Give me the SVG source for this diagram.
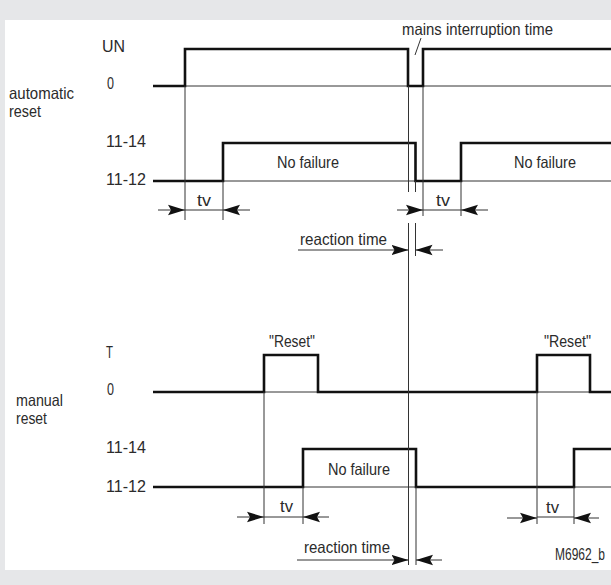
<svg xmlns="http://www.w3.org/2000/svg" width="611" height="585" viewBox="0 0 611 585">
<defs>
<style>
.t{font-family:"Liberation Sans","Arial",sans-serif;font-size:16.5px;fill:#2b2b2b}
.sig{fill:none;stroke:#111;stroke-width:2.6;stroke-linejoin:miter}
.th{fill:none;stroke:#333;stroke-width:1}
.ar{fill:none;stroke:#333;stroke-width:1;marker-end:url(#ah)}
</style>
<marker id="ah" markerUnits="userSpaceOnUse" markerWidth="18" markerHeight="12" refX="17" refY="6" orient="auto">
<path d="M0,0.8 L17,6 L0,11.2 L3,6 Z" fill="#111"/>
</marker>
</defs>
<rect x="0" y="0" width="611" height="585" fill="#e6e7e9"/>
<rect x="5" y="20" width="606" height="550" fill="#fff"/>

<g id="labels">
<text class="t" x="9" y="99" textLength="65" lengthAdjust="spacingAndGlyphs">automatic</text>
<text class="t" x="9" y="117" textLength="32" lengthAdjust="spacingAndGlyphs">reset</text>
<text class="t" x="16" y="406" textLength="47" lengthAdjust="spacingAndGlyphs">manual</text>
<text class="t" x="16" y="424" textLength="31" lengthAdjust="spacingAndGlyphs">reset</text>
<text class="t" x="102" y="52" textLength="23" lengthAdjust="spacingAndGlyphs">UN</text>
<text class="t" x="107" y="89" textLength="7" lengthAdjust="spacingAndGlyphs">0</text>
<text class="t" x="106" y="147" textLength="40" lengthAdjust="spacingAndGlyphs">11-14</text>
<text class="t" x="106" y="185" textLength="40" lengthAdjust="spacingAndGlyphs">11-12</text>
<text class="t" x="106" y="358" textLength="7" lengthAdjust="spacingAndGlyphs">T</text>
<text class="t" x="107" y="395" textLength="7" lengthAdjust="spacingAndGlyphs">0</text>
<text class="t" x="106" y="453" textLength="40" lengthAdjust="spacingAndGlyphs">11-14</text>
<text class="t" x="106" y="492" textLength="40" lengthAdjust="spacingAndGlyphs">11-12</text>
<text class="t" x="402" y="35" textLength="151" lengthAdjust="spacingAndGlyphs">mains interruption time</text>
<text class="t" x="277" y="168" textLength="62" lengthAdjust="spacingAndGlyphs">No failure</text>
<text class="t" x="514" y="168" textLength="62" lengthAdjust="spacingAndGlyphs">No failure</text>
<text class="t" x="328" y="475" textLength="62" lengthAdjust="spacingAndGlyphs">No failure</text>
<text class="t" x="269" y="347" textLength="46" lengthAdjust="spacingAndGlyphs">"Reset"</text>
<text class="t" x="544" y="347" textLength="47" lengthAdjust="spacingAndGlyphs">"Reset"</text>
<text class="t" x="197" y="206" textLength="14" lengthAdjust="spacingAndGlyphs">tv</text>
<text class="t" x="436" y="206" textLength="14" lengthAdjust="spacingAndGlyphs">tv</text>
<text class="t" x="280" y="512" textLength="13" lengthAdjust="spacingAndGlyphs">tv</text>
<text class="t" x="546" y="513" textLength="13" lengthAdjust="spacingAndGlyphs">tv</text>
<text class="t" x="300" y="245" textLength="87" lengthAdjust="spacingAndGlyphs">reaction time</text>
<text class="t" x="304" y="553" textLength="86" lengthAdjust="spacingAndGlyphs">reaction time</text>
<text class="t" x="555" y="560" textLength="50" lengthAdjust="spacingAndGlyphs">M6962_b</text>
</g>

<g id="signals">
<path class="th" d="M185,86 H611 M223,181 H611 M264,392 H318 M537,392 H590 M303,487 H611"/>
<path id="un" class="sig" d="M153,86 H185 V49 H408 V86 H423 V49 H612"/>
<path id="k1auto" class="sig" d="M153,181 H223 V143 H415.5 V181 H461 V143 H612"/>
<path id="t" class="sig" d="M153,392 H264 V355 H318 V392 H537 V355 H590 V392 H612"/>
<path id="k1man" class="sig" d="M153,487 H303 V449 H416 V487 H574 V449 H612"/>
</g>

<g id="connectors">
<path class="th" d="M185,86 V220 M223,181 V220 M408.5,86 V192 M415.5,181 V192 M423,86 V216 M461,181 V216"/>
<path class="th" d="M408.5,223 V565 M415.5,223 V256 M416,487 V565"/>
<path class="th" d="M264,392 V524 M303,487 V524 M537,392 V524 M574,487 V524"/>
<path class="th" d="M421,38 L415,55"/>
<path class="th" d="M185,210 H223 M423,210 H461 M264,517 H303 M537,517 H574"/>
<line class="ar" x1="158" y1="210" x2="185" y2="210"/>
<line class="ar" x1="250" y1="210" x2="223" y2="210"/>
<line class="ar" x1="397" y1="210" x2="423" y2="210"/>
<line class="ar" x1="488" y1="210" x2="461" y2="210"/>
<line class="ar" x1="298" y1="250" x2="408.5" y2="250"/>
<line class="ar" x1="443" y1="250" x2="415.5" y2="250"/>
<line class="ar" x1="237" y1="517" x2="264" y2="517"/>
<line class="ar" x1="329" y1="517" x2="303" y2="517"/>
<line class="ar" x1="507" y1="518" x2="537" y2="518"/>
<line class="ar" x1="599" y1="518" x2="574" y2="518"/>
<line class="ar" x1="297" y1="560" x2="408.5" y2="560"/>
<line class="ar" x1="442" y1="560" x2="416" y2="560"/>
</g>
</svg>
